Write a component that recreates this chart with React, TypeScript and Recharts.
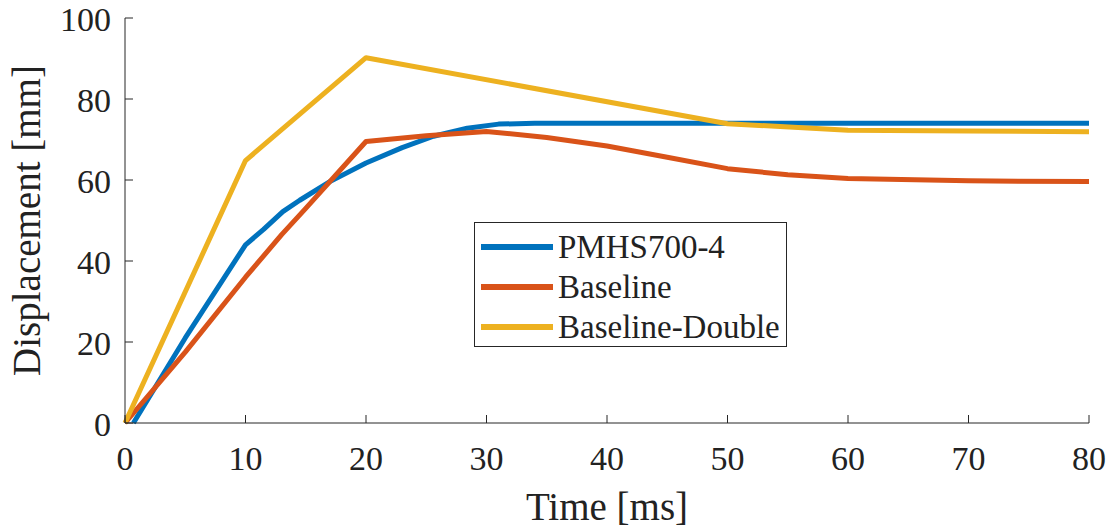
import React from 'react';
import { LineChart, Line, XAxis, YAxis, Legend } from 'recharts';

// ---- data ----
const blueTime = [0.7, 5, 10, 11.5, 13.1, 14.5, 17, 20, 23, 25.6, 28.4, 31, 34, 40, 50, 60, 70, 80];
const blueDisp = [0, 21, 44, 47.8, 52.2, 55, 59.6, 64.2, 68, 70.8, 72.8, 73.8, 74, 74, 74, 74, 74, 74];

const orangeTime = [0, 5, 10, 13, 15, 20, 25, 30, 35, 40, 45, 50, 55, 60, 70, 80];
const orangeDisp = [0, 17.5, 36, 46.5, 53, 69.5, 70.9, 72, 70.5, 68.4, 65.6, 62.8, 61.3, 60.4, 59.8, 59.6];

const yellowTime = [0, 10, 20, 50, 60, 70, 80];
const yellowDisp = [0, 64.8, 90.2, 73.9, 72.3, 72.1, 71.9];

const xTicks = [0, 10, 20, 30, 40, 50, 60, 70, 80];
const yTicks = [0, 20, 40, 60, 80, 100];

const seriesNames = ['PMHS700-4', 'Baseline', 'Baseline-Double'];
const seriesColors = ['#0072BD', '#D95319', '#EDB120'];

const xTitle = 'Time [ms]';
const yTitle = 'Displacement [mm]';

const toPoints = (t: number[], d: number[]) => t.map((x, i) => ({ t: x, d: d[i] }));
const seriesData = [
  toPoints(blueTime, blueDisp),
  toPoints(orangeTime, orangeDisp),
  toPoints(yellowTime, yellowDisp),
];

const FONT = '"Liberation Serif", "Times New Roman", serif';
const AXIS = '#262626';
const TXT = '#222222';
const TL = 8;

const BottomTick = (props: any) => {
  const { x, y, payload } = props;
  return (
    <g>
      <line x1={x} y1={y} x2={x} y2={y - TL} stroke={AXIS} strokeWidth={1} />
      <text x={x} y={y + 47} textAnchor="middle" fontSize={34} fontFamily={FONT} fill={TXT}>
        {payload.value}
      </text>
    </g>
  );
};

const TopTick = (props: any) => {
  const { x, y } = props;
  return <line x1={x} y1={y} x2={x} y2={y + TL} stroke={AXIS} strokeWidth={1} />;
};

const LeftTick = (props: any) => {
  const { x, y, payload } = props;
  return (
    <g>
      <line x1={x} y1={y} x2={x + TL} y2={y} stroke={AXIS} strokeWidth={1} />
      <text x={x - 14} y={y + 13} textAnchor="end" fontSize={34} fontFamily={FONT} fill={TXT}>
        {payload.value}
      </text>
    </g>
  );
};

const RightTick = (props: any) => {
  const { x, y } = props;
  return <line x1={x} y1={y} x2={x - TL} y2={y} stroke={AXIS} strokeWidth={1} />;
};

const XTitle = (props: any) => {
  const vb = props.viewBox;
  return (
    <text x={vb.x + vb.width / 2} y={vb.y + 97} textAnchor="middle" fontSize={39} fontFamily={FONT} fill={TXT}>
      {xTitle}
    </text>
  );
};

const YTitle = (props: any) => {
  const vb = props.viewBox;
  const cx = vb.x + 40;
  const cy = vb.y + vb.height / 2;
  return (
    <text
      transform={`translate(${cx}, ${cy}) rotate(-90)`}
      textAnchor="middle"
      fontSize={39}
      fontFamily={FONT}
      fill={TXT}
    >
      {yTitle}
    </text>
  );
};

const LegendBox = () => (
  <div
    style={{
      boxSizing: 'border-box',
      width: 313,
      height: 125,
      border: `1px solid ${AXIS}`,
      background: '#fff',
      paddingTop: 4,
      fontFamily: FONT,
      fontSize: 33,
      color: TXT,
    }}
  >
    {seriesNames.map((n, i) => (
      <div key={n} style={{ display: 'flex', alignItems: 'center', height: 40, whiteSpace: 'nowrap' }}>
        <div style={{ width: 72, height: 6, marginLeft: 6, marginRight: 5, background: seriesColors[i] }} />
        <span style={{ lineHeight: '40px' }}>{n}</span>
      </div>
    ))}
  </div>
);

export default function App() {
  return (
    <div style={{ position: 'absolute', left: 0, top: 0, width: 1117, height: 529, background: '#fff' }}>
      <LineChart width={1117} height={529} margin={{ top: 18, right: 28, bottom: 46, left: 0 }}>
        <XAxis
          dataKey="t"
          type="number"
          domain={[0, 80]}
          ticks={xTicks}
          height={60}
          tickSize={0}
          tickMargin={0}
          tickLine={false}
          tick={<BottomTick />}
          axisLine={{ stroke: AXIS, strokeWidth: 1 }}
          label={<XTitle />}
          interval={0}
        />
        <XAxis
          xAxisId="top"
          orientation="top"
          dataKey="t"
          type="number"
          domain={[0, 80]}
          ticks={xTicks}
          height={0}
          tickSize={0}
          tickMargin={0}
          tickLine={false}
          tick={<TopTick />}
          axisLine={{ stroke: AXIS, strokeWidth: 1 }}
          interval={0}
        />
        <YAxis
          type="number"
          domain={[0, 100]}
          ticks={yTicks}
          width={125}
          tickSize={0}
          tickMargin={0}
          tickLine={false}
          tick={<LeftTick />}
          axisLine={{ stroke: AXIS, strokeWidth: 1 }}
          label={<YTitle />}
          interval={0}
        />
        <YAxis
          yAxisId="right"
          orientation="right"
          type="number"
          domain={[0, 100]}
          ticks={yTicks}
          width={0}
          tickSize={0}
          tickMargin={0}
          tickLine={false}
          tick={<RightTick />}
          axisLine={{ stroke: AXIS, strokeWidth: 1 }}
          interval={0}
        />
        {seriesData.map((d, i) => (
          <Line
            key={seriesNames[i]}
            data={d}
            dataKey="d"
            name={seriesNames[i]}
            type="linear"
            stroke={seriesColors[i]}
            strokeWidth={5}
            strokeLinejoin="round"
            dot={false}
            activeDot={false}
            isAnimationActive={false}
          />
        ))}
        <Legend
          layout="vertical"
          align="center"
          verticalAlign="middle"
          content={<LegendBox />}
          wrapperStyle={{ position: 'absolute', left: 474, top: 222, width: 313, height: 125 }}
        />
      </LineChart>
    </div>
  );
}
